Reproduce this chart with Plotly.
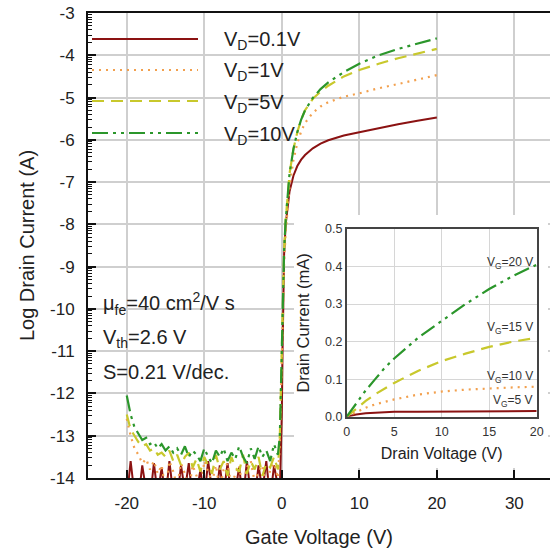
import plotly.graph_objects as go
import math

# ---------------- data ----------------
# Transfer curves: gate voltage (V) vs log10 drain current (A)
gate_v = [-20, -19.5, -19, -18.5, -18, -17.5, -17, -16.5, -16, -15.5,
          -15, -14.5, -14, -13.5, -13, -12.5, -12, -11.5, -11, -10.5,
          -10, -9.5, -9, -8.5, -8, -7.5, -7, -6.5, -6, -5.5,
          -5, -4.5, -4, -3.5, -3, -2.5, -2, -1.5, -1, -0.5,
          -0.25, 0, 0.1, 0.2, 0.3, 0.5, 0.75, 1, 1.5, 2,
          2.5, 3, 4, 5, 6, 8, 10, 12.5, 15, 17.5, 20]

logid_vd01 = [-14.5, -13.6, -14.4, -14.5, -13.7, -14.3, -14.5, -13.65, -14.4, -13.75,
              -14.5, -13.6, -14.4, -14.5, -13.7, -14.3, -13.65, -14.5, -14.4, -13.8,
              -14.5, -13.6, -14.3, -14.5, -13.7, -14.4, -13.65, -14.5, -14.3, -13.75,
              -14.5, -13.6, -14.4, -14.5, -13.7, -14.3, -13.6, -14.5, -13.7, -14.2,
              -14.3, -12.5, -11.0, -9.7, -8.7, -8.0, -7.55, -7.22, -6.85, -6.62,
              -6.47, -6.36, -6.2, -6.09, -6.01, -5.9, -5.82, -5.72, -5.63, -5.55, -5.47]

logid_vd1 = [-12.6, -13.0, -13.3, -13.45, -13.65, -13.55, -13.8, -13.6, -13.9, -13.7,
             -14.3, -13.6, -13.85, -14.2, -13.65, -13.9, -14.3, -13.7, -13.95, -14.4,
             -13.6, -13.85, -14.1, -13.7, -14.3, -13.8, -13.65, -14.2, -13.9, -13.7,
             -14.3, -13.75, -13.6, -14.1, -13.85, -13.7, -14.3, -13.8, -13.65, -14.0,
             -13.2, -11.2, -10.4, -9.6, -8.9, -8.2, -7.6, -7.1, -6.48, -6.08,
             -5.8, -5.6, -5.36, -5.21, -5.11, -4.98, -4.9, -4.78, -4.68, -4.57, -4.47]

logid_vd5 = [-12.5, -12.85, -13.0, -13.15, -13.25, -13.2, -13.35, -13.3, -13.45, -13.4,
             -13.5, -13.35, -13.6, -13.45, -13.7, -13.5, -13.4, -13.75, -13.55, -13.85,
             -13.5, -13.7, -13.9, -13.45, -13.8, -13.6, -13.95, -13.5, -13.75, -13.85,
             -13.45, -13.9, -13.6, -13.8, -13.5, -13.95, -13.65, -13.75, -13.5, -13.8,
             -13.0, -11.0, -10.2, -9.3, -8.6, -7.9, -7.3, -6.8, -6.22, -5.82,
             -5.52, -5.3, -5.03, -4.86, -4.72, -4.5, -4.35, -4.2, -4.07, -3.96, -3.85]

logid_vd10 = [-12.05, -12.5, -12.8, -12.95, -13.1, -13.05, -13.2, -13.15, -13.3, -13.2,
              -13.35, -13.25, -13.4, -13.3, -13.45, -13.25, -13.5, -13.35, -13.45, -13.6,
              -13.3, -13.5, -13.65, -13.35, -13.5, -13.3, -13.6, -13.4, -13.55, -13.25,
              -13.5, -13.65, -13.3, -13.55, -13.25, -13.5, -13.35, -13.6, -13.2, -13.45,
              -13.0, -11.0, -10.2, -9.3, -8.6, -7.9, -7.3, -6.8, -6.22, -5.82,
              -5.52, -5.3, -5.01, -4.8, -4.64, -4.4, -4.2, -4.0, -3.85, -3.72, -3.6]

transfer_labels = ["V<sub>D</sub>=0.1V", "V<sub>D</sub>=1V", "V<sub>D</sub>=5V", "V<sub>D</sub>=10V"]
transfer_series = [logid_vd01, logid_vd1, logid_vd5, logid_vd10]

x_ticks = [-20, -10, 0, 10, 20, 30]
x_ticklabels = ["-20", "-10", "0", "10", "20", "30"]
y_ticks = [-14, -13, -12, -11, -10, -9, -8, -7, -6, -5, -4, -3]
y_ticklabels = ["-14", "-13", "-12", "-11", "-10", "-9", "-8", "-7", "-6", "-5", "-4", "-3"]

# Output curves (inset): drain voltage (V) vs drain current (mA)
drain_v = [0, 1, 2, 3, 4, 5, 7.5, 10, 12.5, 15, 17.5, 20]
id_vg5 = [0, 0.006, 0.009, 0.011, 0.012, 0.013, 0.0135, 0.014, 0.014, 0.0145, 0.015, 0.015]
id_vg10 = [0, 0.013, 0.024, 0.033, 0.040, 0.046, 0.059, 0.067, 0.072, 0.076, 0.078, 0.080]
id_vg15 = [0, 0.022, 0.042, 0.060, 0.076, 0.090, 0.122, 0.148, 0.168, 0.186, 0.200, 0.210]
id_vg20 = [0, 0.035, 0.070, 0.100, 0.130, 0.155, 0.210, 0.255, 0.300, 0.340, 0.375, 0.405]
output_labels = ["V<sub>G</sub>=5 V", "V<sub>G</sub>=10 V", "V<sub>G</sub>=15 V", "V<sub>G</sub>=20 V"]
output_series = [id_vg5, id_vg10, id_vg15, id_vg20]

param_texts = ["μ<sub>fe</sub>=40 cm<sup>2</sup>/V s", "V<sub>th</sub>=2.6 V", "S=0.21 V/dec."]

# ---------------- styles / layout geometry ----------------
colors = ["#8b1212", "#f2a04e", "#c8c82c", "#2b962b"]
dashes = ["solid", "2px,5px", "12px,7px", "16px,5px,3px,5px,3px,5px"]
widths = [2, 2.2, 2.2, 2.2]
FONT = "Liberation Sans, Arial, Helvetica, sans-serif"

W, H = 550, 550
ML, MR, MT, MB = 88, 0, 13, 72
PW, PH = W - ML - MR, H - MT - MB
XR = [-25, 34.6]
YR = [-14, -3]


def px_x(px):   # screen px -> paper x
    return (px - ML) / PW


def px_y(py):   # screen px -> paper y
    return (H - MB - py) / PH


def dx(px):
    return XR[0] + px_x(px) * (XR[1] - XR[0])


def dy(py):
    return YR[0] + px_y(py) * (YR[1] - YR[0])


fig = go.Figure()

for lab, ys, c, d, w in zip(transfer_labels, transfer_series, colors, dashes, widths):
    fig.add_trace(go.Scatter(x=gate_v, y=ys, mode="lines", name=lab,
                             line=dict(color=c, dash=d, width=w),
                             xaxis="x", yaxis="y", showlegend=False))

for lab, ys, c, d, w in zip(output_labels, output_series, colors, dashes, widths):
    fig.add_trace(go.Scatter(x=drain_v, y=ys, mode="lines", name=lab,
                             line=dict(color=c, dash=d, width=w),
                             xaxis="x2", yaxis="y2", showlegend=False))

# minor ticks in log-decade style
minor_vals = [n + math.log10(k) for n in range(-14, -3) for k in range(2, 10)]

fig.update_layout(
    width=W, height=H,
    margin=dict(l=ML, r=MR, t=MT, b=MB, autoexpand=False),
    paper_bgcolor="white", plot_bgcolor="white",
    font=dict(family=FONT, color="#222", size=17),
    xaxis=dict(range=XR, tickvals=x_ticks, ticktext=x_ticklabels, automargin=False,
               ticks="inside", ticklen=8, tickwidth=1.5, tickcolor="#111",
               ticklabelstandoff=9, ticklabeloverflow="allow",
               showline=True, linecolor="#111", linewidth=2, mirror=True,
               showgrid=True, gridcolor="#cfcfcf", gridwidth=1.5, zeroline=False,
               tickfont=dict(size=17),
               title=dict(text="Gate Voltage (V)", font=dict(size=20), standoff=18)),
    yaxis=dict(range=YR, tickvals=y_ticks, ticktext=y_ticklabels, automargin=False,
               ticks="inside", ticklen=8, tickwidth=1.5, tickcolor="#111",
               ticklabelstandoff=8, ticklabeloverflow="allow",
               minor=dict(tickmode="array", tickvals=minor_vals, ticks="inside",
                          ticklen=4, tickwidth=1, tickcolor="#111", showgrid=False),
               showline=True, linecolor="#111", linewidth=2, mirror=False,
               showgrid=True, gridcolor="#cfcfcf", gridwidth=1.5, zeroline=False,
               tickfont=dict(size=17),
               title=dict(text="Log Drain Current (A)", font=dict(size=20), standoff=10)),
    xaxis2=dict(domain=[px_x(346.7), px_x(536.7)], anchor="y2", range=[0, 20],
                automargin=False, ticklabelstandoff=3, ticklabeloverflow="allow",
                tickvals=[0, 5, 10, 15, 20], ticks="", showline=True, mirror=True,
                linecolor="#444", linewidth=1.5, showgrid=True, gridcolor="#d6d6d6",
                gridwidth=1, zeroline=False, tickfont=dict(size=12.5, color="#333"),
                title=dict(text="Drain Voltage (V)", font=dict(size=16, color="#222"), standoff=9)),
    yaxis2=dict(domain=[px_y(416.7), px_y(229)], anchor="x2", range=[0, 0.5],
                automargin=False, ticklabeloverflow="allow",
                tickvals=[0, 0.1, 0.2, 0.3, 0.4, 0.5], tickformat=".1f", ticks="",
                showline=True, mirror=True, linecolor="#444", linewidth=1.5,
                showgrid=True, gridcolor="#d6d6d6", gridwidth=1, zeroline=False,
                tickfont=dict(size=12.5, color="#333"),
                title=dict(text="Drain Current (mA)", font=dict(size=16.5, color="#222"), standoff=11)),
)

shapes = []
# white panel behind the inset (covers the main grid)
shapes.append(dict(type="rect", xref="x", yref="y",
                   x0=dx(294), x1=dx(548), y0=dy(468), y1=dy(215),
                   fillcolor="white", line=dict(width=0), layer="between"))

# legend samples
legend_y = [39, 70, 101, 133]
for ly, c, d, w in zip(legend_y, colors, dashes, widths):
    shapes.append(dict(type="line", xref="paper", yref="paper",
                       x0=px_x(92), x1=px_x(198), y0=px_y(ly), y1=px_y(ly),
                       line=dict(color=c, dash=d, width=w), layer="above"))
fig.update_layout(shapes=shapes)

annots = []
for ly, lab in zip(legend_y, transfer_labels):
    annots.append(dict(x=px_x(222), y=px_y(ly + 2), xref="paper", yref="paper",
                       text=lab, showarrow=False, xanchor="left", yanchor="middle",
                       font=dict(size=20, color="#222")))

for ty, t in zip([303, 338, 372], param_texts):
    annots.append(dict(x=px_x(101), y=px_y(ty), xref="paper", yref="paper",
                       text=t, showarrow=False, xanchor="left", yanchor="middle",
                       font=dict(size=20, color="#222")))

# inset curve labels
inset_label_pos = [(535, 401), (535, 377), (535, 328), (535, 263)]
for (lx, ly), lab in zip(inset_label_pos, output_labels):
    annots.append(dict(x=px_x(lx), y=px_y(ly), xref="paper", yref="paper",
                       text=lab, showarrow=False, xanchor="right", yanchor="middle",
                       font=dict(size=12, color="#333")))

fig.update_layout(annotations=annots)

# remove the default page margin so the 550x550 figure fills the window exactly
fig.write_html("out.html",
               config={"displayModeBar": False},
               post_script="document.body.style.margin='0';document.body.style.overflow='hidden';")
